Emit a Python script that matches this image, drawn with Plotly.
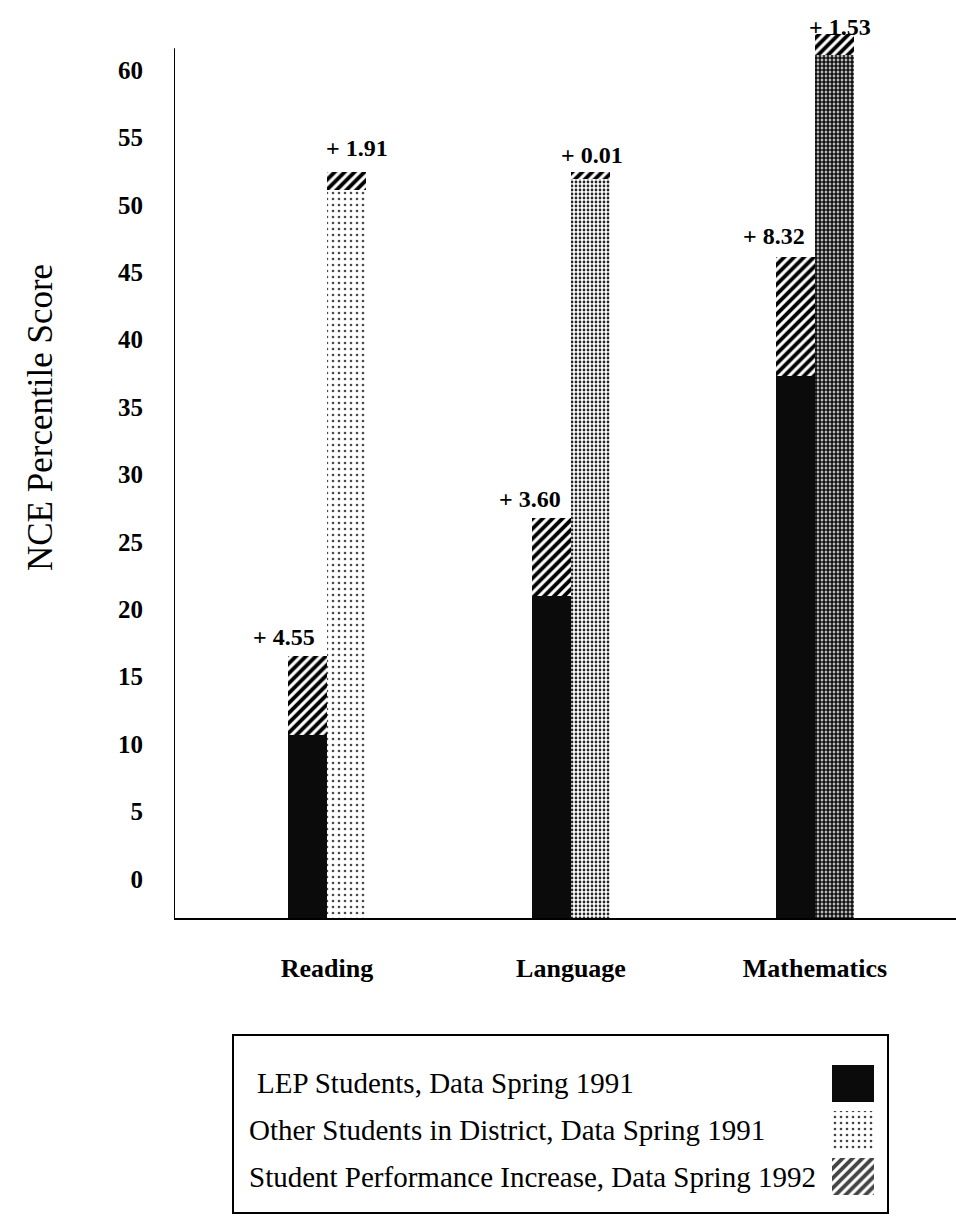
import plotly.graph_objects as go

# ---- data (1992 = top of the hatched segment) ----
subjects = ["Reading", "Language", "Mathematics"]
lep_1991 = [10.7, 21.0, 37.3]          # LEP Students, Spring 1991
lep_1992 = [16.5, 26.8, 46.1]          # LEP Students, Spring 1992
other_1991 = [51.1, 51.9, 61.1]        # Other Students in District, Spring 1991
other_1992 = [52.4, 52.4, 62.7]        # Other Students in District, Spring 1992
lep_increase_printed = [4.55, 3.60, 8.32]      # increases as printed on the chart
other_increase_printed = [1.91, 0.01, 1.53]
y_ticks = [0, 5, 10, 15, 20, 25, 30, 35, 40, 45, 50, 55, 60]
legend_labels = [
    "LEP Students, Data Spring 1991",
    "Other Students in District, Data Spring 1991",
    "Student Performance Increase, Data Spring 1992",
]

# ---- layout constants ----
W, H = 956, 1225
AXIS_FLOOR = -2.9       # the x axis line sits a little below the 0 label
Y_MAX = 64.0
Y_AXIS_TOP = 61.6
X_MIN, X_MAX = -0.627, 2.578
BW = 0.16               # bar width (x units)
LABEL_FONT = "Liberation Serif"
LEP_LABEL_XSHIFT = [10, 12, 12]
OTH_LABEL_XSHIFT = [-23, -32, -27]
LEP_LABEL_YSHIFT = [4, 4, 6]
OTH_LABEL_YSHIFT = [9, 2, -8]

xs = list(range(len(subjects)))
x_lep = [x - BW / 2 for x in xs]
x_oth = [x + BW / 2 for x in xs]

hatch = dict(shape="/", fgcolor="black", bgcolor="white", size=7,
             solidity=0.55, fgopacity=1)

fig = go.Figure()

# LEP base bars (solid black), drawn from the axis floor
fig.add_trace(go.Bar(
    x=x_lep, y=[v - AXIS_FLOOR for v in lep_1991], base=AXIS_FLOOR, width=BW,
    marker=dict(color="#0b0b0b", line=dict(width=0)), showlegend=False,
    name=legend_labels[0], hoverinfo="skip"))
# LEP increase (hatched)
fig.add_trace(go.Bar(
    x=x_lep, y=[b - a for a, b in zip(lep_1991, lep_1992)], base=lep_1991,
    width=BW, marker=dict(color="white", line=dict(width=0), pattern=hatch),
    showlegend=False, name=legend_labels[2], hoverinfo="skip"))
# Other students base bars (stippled)
fig.add_trace(go.Bar(
    x=x_oth, y=[v - AXIS_FLOOR for v in other_1991], base=AXIS_FLOOR, width=BW,
    marker=dict(color="white", line=dict(width=0),
                pattern=dict(shape=".", fgcolor=["#4a4a4a", "#262626", "#111111"],
                             bgcolor="white", size=[6, 4, 4],
                             solidity=[0.15, 0.38, 0.72], fgopacity=1)),
    showlegend=False, name=legend_labels[1], hoverinfo="skip"))
# Other students increase (hatched)
fig.add_trace(go.Bar(
    x=x_oth, y=[b - a for a, b in zip(other_1991, other_1992)], base=other_1991,
    width=BW, marker=dict(color="white", line=dict(width=0), pattern=hatch),
    showlegend=False, name=legend_labels[2], hoverinfo="skip"))

# increase labels
ann_font = dict(family=LABEL_FONT, size=24, color="black", weight="bold")
for i in range(len(subjects)):
    fig.add_annotation(x=x_lep[i], y=lep_1992[i],
                       text=f"+ {lep_increase_printed[i]:.2f}", showarrow=False,
                       xanchor="right", yanchor="bottom",
                       xshift=LEP_LABEL_XSHIFT[i], yshift=LEP_LABEL_YSHIFT[i],
                       font=ann_font)
    fig.add_annotation(x=x_oth[i], y=other_1992[i],
                       text=f"+ {other_increase_printed[i]:.2f}", showarrow=False,
                       xanchor="left", yanchor="bottom",
                       xshift=OTH_LABEL_XSHIFT[i], yshift=OTH_LABEL_YSHIFT[i],
                       font=ann_font)

# ---- legend swatches on their own small axes ----
fig.add_trace(go.Bar(
    x=[1, 1, 1], y=[0, 1, 2], orientation="h", width=0.8,
    xaxis="x2", yaxis="y2",
    marker=dict(color=["#0b0b0b", "white", "white"], line=dict(width=0),
                pattern=dict(shape=["", ".", "/"],
                             fgcolor=["#0b0b0b", "#4a4a4a", "black"],
                             bgcolor=["#0b0b0b", "white", "white"],
                             size=[8, 6, 7], solidity=[0.5, 0.15, 0.55],
                             fgopacity=1)),
    showlegend=False, hoverinfo="skip"))

leg_x = [(255 - 174) / 782, (247 - 174) / 782, (247 - 174) / 782]
for i, lab in enumerate(legend_labels):
    fig.add_annotation(xref="paper", yref="y2", x=leg_x[i], y=i, text=lab,
                       showarrow=False, xanchor="left", yanchor="middle",
                       font=dict(family=LABEL_FONT, size=29, color="black"))

# legend box
fig.add_shape(type="rect", xref="paper", yref="paper",
              x0=(233 - 174) / 782, x1=(888 - 174) / 782,
              y0=(1215 - 1213) / 1199, y1=(1215 - 1035) / 1199,
              line=dict(color="black", width=2), fillcolor="rgba(0,0,0,0)",
              layer="below")

# y axis line (shorter than the plot area)
fig.add_shape(type="line", xref="x", yref="y", x0=X_MIN, x1=X_MIN,
              y0=AXIS_FLOOR, y1=Y_AXIS_TOP, line=dict(color="black", width=2))

# y axis title placed as an annotation (centred where the reference has it)
fig.add_annotation(xref="paper", yref="paper", x=(40 - 174) / 782,
                   y=(1215 - 418) / 1199, text="NCE Percentile Score",
                   textangle=-90, showarrow=False, xanchor="center",
                   yanchor="middle",
                   font=dict(family=LABEL_FONT, size=35, color="black"))

main_bottom = (1215 - 918) / 1199

fig.update_layout(
    width=W, height=H,
    margin=dict(l=174, r=0, t=16, b=10),
    paper_bgcolor="white", plot_bgcolor="white",
    barmode="overlay", bargap=0,
    xaxis=dict(range=[X_MIN, X_MAX], tickvals=xs, ticktext=subjects,
               showgrid=False, zeroline=False, showline=True,
               linecolor="black", linewidth=2, ticks="",
               ticklabelstandoff=26,
               tickfont=dict(family=LABEL_FONT, size=26, color="black",
                             weight="bold"),
               domain=[0, 1]),
    yaxis=dict(range=[AXIS_FLOOR, Y_MAX], tickvals=y_ticks,
               showgrid=False, zeroline=False, showline=False, ticks="",
               ticklabelstandoff=30,
               tickfont=dict(family=LABEL_FONT, size=25, color="black",
                             weight="bold"),
               domain=[main_bottom, 1]),
    xaxis2=dict(domain=[(832 - 174) / 782, (874 - 174) / 782], range=[0, 1],
                visible=False, anchor="y2"),
    yaxis2=dict(domain=[(1215 - 1200) / 1199, (1215 - 1060) / 1199],
                range=[2.5, -0.5], visible=False, anchor="x2"),
)

fig.write_html("out.html")
